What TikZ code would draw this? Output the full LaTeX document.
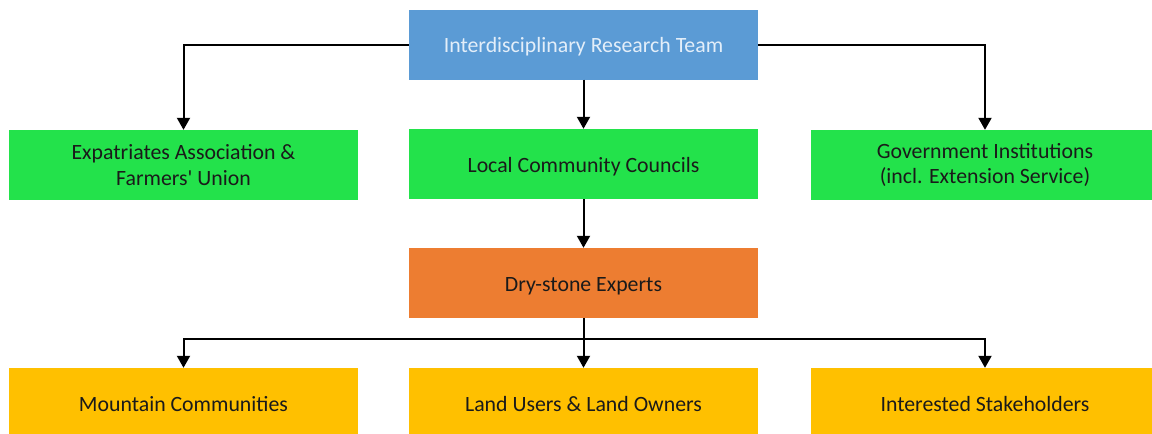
\documentclass[tikz,border=0pt]{standalone}
\usepackage{fontspec}
\setmainfont{Carlito}
\usetikzlibrary{arrows.meta}
\definecolor{teamblue}{HTML}{5B9BD5}
\definecolor{orggreen}{HTML}{23E24B}
\definecolor{expertorange}{HTML}{ED7D31}
\definecolor{targetyellow}{HTML}{FFC000}
\definecolor{teamtext}{HTML}{E3EEF9}
\definecolor{darktext}{HTML}{1A1A1A}
\begin{document}
\begin{tikzpicture}[x=1pt,y=-1pt,
  box/.style={rectangle, draw=none, minimum width=349pt, minimum height=70pt,
    inner sep=0pt, align=center, font=\fontsize{21.8}{25.5}\selectfont, text=darktext},
  oneline/.style={text height=20pt, text depth=3.6pt},
  teambox/.style={box, oneline, fill=teamblue, text=teamtext},
  orgbox/.style={box, fill=orggreen},
  expertbox/.style={box, oneline, fill=expertorange},
  targetbox/.style={box, oneline, fill=targetyellow},
  link/.style={draw=black, line width=2pt, -{Triangle[width=13pt,length=12pt]}},
  busline/.style={draw=black, line width=2pt}]
\useasboundingbox (0,0) rectangle (1152,434);

% top level
\node[teambox] (team) at (583.5,44.5) {Interdisciplinary Research Team};

% partner organisations
\node[orgbox] (expat) at (183.5,165) {Expatriates Association \&\\Farmers\textquotesingle\ Union};
\node[orgbox, oneline] (councils) at (583.5,164) {Local Community Councils};
\node[orgbox] (gov) at (985,165) {Government Institutions\\(incl. Extension Service)};

% experts
\node[expertbox] (experts) at (583.5,283) {Dry-stone Experts};

% target groups
\node[targetbox] (mountain) at (183.5,403) {Mountain Communities};
\node[targetbox] (landusers) at (583.5,403) {Land Users \& Land Owners};
\node[targetbox] (stake) at (985,403) {Interested Stakeholders};

% connectors from the team
\draw[link] (team.west) -| (expat.north);
\draw[link] (team.east) -| (gov.north);
\draw[link] (team.south) -- (councils.north);
\draw[link] (councils.south) -- (experts.north);

% distribution from the experts
\coordinate (bus) at (583.5,339);
\draw[link] (experts.south) -- (landusers.north);
\draw[link] (bus) -| (mountain.north);
\draw[link] (bus) -| (stake.north);
\end{tikzpicture}
\end{document}
